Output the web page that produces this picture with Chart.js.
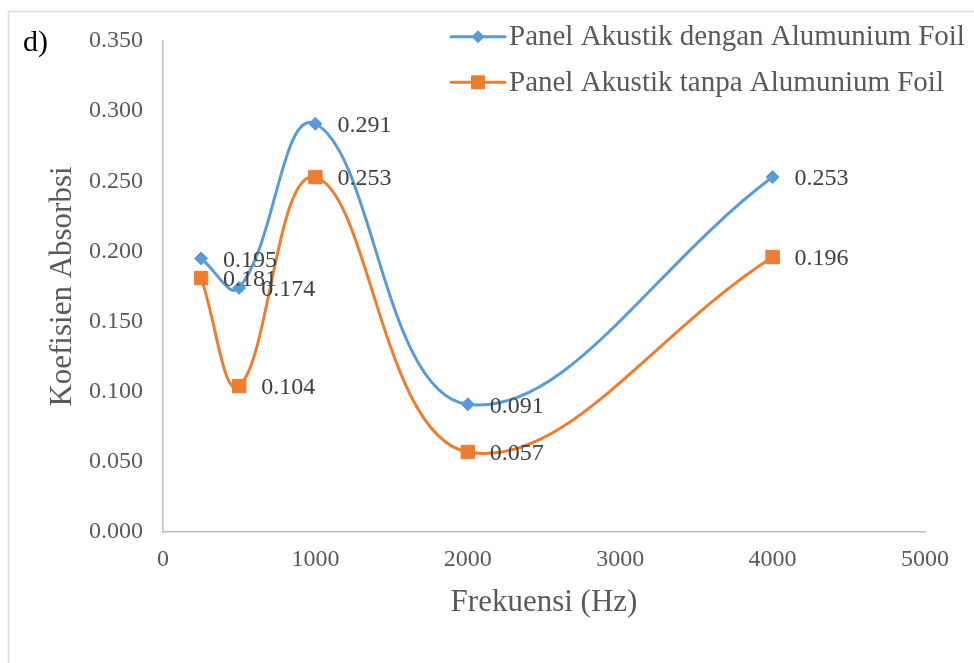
<!DOCTYPE html>
<html>
<head>
<meta charset="utf-8">
<script src="https://cdn.jsdelivr.net/npm/chart.js@4.4.1/dist/chart.umd.min.js"></script>
<style>
  html, body { margin: 0; padding: 0; background: #ffffff; }
  #wrap { position: relative; width: 974px; height: 663px; }
</style>
</head>
<body>
<div id="wrap"><canvas id="chart" width="974" height="663"></canvas></div>
<script>
// Frequencies (Hz) and absorption coefficients for the two panel variants
const frequencies = [250, 500, 1000, 2000, 4000];
const withFoil = [0.195, 0.174, 0.291, 0.091, 0.253];
const withoutFoil = [0.181, 0.104, 0.253, 0.057, 0.196];
const seriesNames = ['Panel Akustik dengan Alumunium Foil', 'Panel Akustik tanpa Alumunium Foil'];
const xTicks = [0, 1000, 2000, 3000, 4000, 5000];
const yTicks = [0, 0.05, 0.10, 0.15, 0.20, 0.25, 0.30, 0.35];
const panelLabel = 'd)';
const xTitle = 'Frekuensi (Hz)';
const yTitle = 'Koefisien Absorbsi';

const SERIF = '"Liberation Serif", "Times New Roman", serif';
const BLUE = '#5b9bd5';
const ORANGE = '#ed7d31';

const toPoints = (vals) => vals.map((v, i) => ({ x: frequencies[i], y: v }));

// Outer frame, panel tag and legend
const decorations = {
  id: 'decorations',
  beforeDraw(chart) {
    const ctx = chart.ctx;
    ctx.save();
    ctx.strokeStyle = '#d9d9d9';
    ctx.lineWidth = 1.5;
    ctx.strokeRect(8.5, 11.5, 1200, 1200);
    ctx.restore();
  },
  afterDraw(chart) {
    const ctx = chart.ctx;
    ctx.save();
    ctx.fillStyle = '#000000';
    ctx.font = '30px ' + SERIF;
    ctx.textAlign = 'left';
    ctx.textBaseline = 'middle';
    ctx.fillText(panelLabel, 23, 43);

    const rows = [36.7, 82.3];
    chart.data.datasets.forEach((ds, i) => {
      const y = rows[i];
      ctx.strokeStyle = ds.borderColor;
      ctx.lineWidth = 3;
      ctx.lineCap = 'round';
      ctx.beginPath();
      ctx.moveTo(451, y);
      ctx.lineTo(505, y);
      ctx.stroke();
      ctx.fillStyle = ds.backgroundColor;
      ctx.beginPath();
      if (ds.pointStyle === 'rectRot') {
        const r = 6.5;
        ctx.moveTo(478 - r, y); ctx.lineTo(478, y - r);
        ctx.lineTo(478 + r, y); ctx.lineTo(478, y + r);
        ctx.closePath();
      } else {
        ctx.rect(478 - 7, y - 7, 14, 14);
      }
      ctx.fill();
      ctx.fillStyle = '#595959';
      ctx.font = '29px ' + SERIF;
      ctx.textAlign = 'left';
      ctx.textBaseline = 'middle';
      ctx.fillText(ds.label, 509, y + 1);
    });
    ctx.restore();
  }
};

// Value labels to the right of each point
const valueLabels = {
  id: 'valueLabels',
  afterDatasetsDraw(chart) {
    const ctx = chart.ctx;
    ctx.save();
    ctx.fillStyle = '#404040';
    ctx.font = '24px ' + SERIF;
    ctx.textAlign = 'left';
    ctx.textBaseline = 'middle';
    chart.data.datasets.forEach((ds, di) => {
      const meta = chart.getDatasetMeta(di);
      meta.data.forEach((pt, i) => {
        ctx.fillText(ds.data[i].y.toFixed(3), pt.x + 22, pt.y + 2);
      });
    });
    ctx.restore();
  }
};

new Chart(document.getElementById('chart'), {
  type: 'line',
  data: {
    datasets: [
      {
        label: seriesNames[0],
        data: toPoints(withFoil),
        borderColor: BLUE,
        backgroundColor: BLUE,
        borderWidth: 3,
        pointStyle: 'rectRot',
        pointRadius: 6.5,
        pointBorderWidth: 1,
        pointBorderColor: BLUE,
        tension: 0.4
      },
      {
        label: seriesNames[1],
        data: toPoints(withoutFoil),
        borderColor: ORANGE,
        backgroundColor: ORANGE,
        borderWidth: 3,
        pointStyle: 'rect',
        pointRadius: 9.5,
        pointBorderWidth: 1,
        pointBorderColor: ORANGE,
        tension: 0.4
      }
    ]
  },
  options: {
    responsive: false,
    animation: false,
    events: [],
    layout: { padding: { left: 44, right: 49, top: 41, bottom: 42 } },
    plugins: {
      legend: { display: false },
      tooltip: { enabled: false }
    },
    scales: {
      x: {
        type: 'linear',
        min: 0,
        max: 5000,
        afterBuildTicks(scale) { scale.ticks = xTicks.map(v => ({ value: v })); },
        afterFit(scale) { scale.height = 89; },
        grid: { display: false, drawTicks: false },
        border: { display: true, color: '#bfbfbf', width: 1.5 },
        ticks: {
          color: '#595959',
          font: { family: SERIF, size: 24 },
          padding: 13,
          maxRotation: 0,
          autoSkip: false,
          callback: (v) => String(v)
        },
        title: {
          display: true,
          text: xTitle,
          color: '#595959',
          font: { family: SERIF, size: 31 },
          padding: 0
        }
      },
      y: {
        type: 'linear',
        min: 0,
        max: 0.35,
        afterBuildTicks(scale) { scale.ticks = yTicks.map(v => ({ value: v })); },
        afterFit(scale) { scale.width = 119; },
        grid: { display: false, drawTicks: false },
        border: { display: true, color: '#bfbfbf', width: 1.5 },
        ticks: {
          color: '#595959',
          font: { family: SERIF, size: 24 },
          padding: 20,
          autoSkip: false,
          callback: (v) => Number(v).toFixed(3)
        },
        title: {
          display: true,
          text: yTitle,
          color: '#595959',
          font: { family: SERIF, size: 31 },
          padding: 0
        }
      }
    }
  },
  plugins: [decorations, valueLabels]
});
</script>
</body>
</html>
